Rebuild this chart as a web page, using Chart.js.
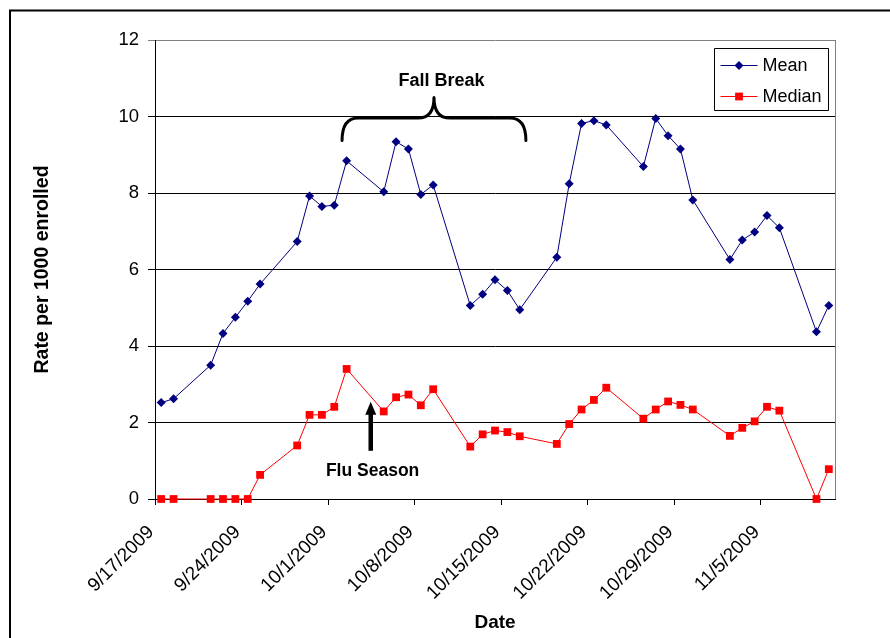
<!DOCTYPE html>
<html>
<head>
<meta charset="utf-8">
<title>Rate per 1000 enrolled</title>
<script src="https://cdn.jsdelivr.net/npm/chart.js@4/dist/chart.umd.min.js"></script>
<style>
  html, body { margin: 0; padding: 0; background: #fff; }
  #wrap { position: relative; width: 890px; height: 638px; }
</style>
</head>
<body>
<div id="wrap"><canvas id="chart" width="890" height="638"></canvas></div>
<script>
// Reporting dates (2009, weekdays only)
const dates = [
  '9/17', '9/18', '9/21', '9/22', '9/23', '9/24', '9/25',
  '9/28', '9/29', '9/30', '10/1', '10/2',
  '10/5', '10/6', '10/7', '10/8', '10/9',
  '10/12', '10/13', '10/14', '10/15', '10/16',
  '10/19', '10/20', '10/21', '10/22', '10/23',
  '10/26', '10/27', '10/28', '10/29', '10/30',
  '11/2', '11/3', '11/4', '11/5', '11/6',
  '11/9', '11/10'
];

const meanRate = [
  2.52, 2.62, 3.50, 4.33, 4.75, 5.17, 5.62,
  6.73, 7.92, 7.65, 7.68, 8.84,
  8.03, 9.34, 9.15, 7.96, 8.21,
  5.06, 5.35, 5.73, 5.45, 4.95,
  6.32, 8.24, 9.82, 9.89, 9.78,
  8.69, 9.95, 9.50, 9.15, 7.82,
  6.26, 6.77, 6.98, 7.41, 7.09,
  4.37, 5.06
];

const medianRate = [
  0, 0, 0, 0, 0, 0, 0.63,
  1.40, 2.20, 2.20, 2.41, 3.40,
  2.29, 2.66, 2.73, 2.45, 2.87,
  1.37, 1.69, 1.79, 1.75, 1.64,
  1.44, 1.96, 2.34, 2.59, 2.91,
  2.10, 2.34, 2.55, 2.46, 2.34,
  1.65, 1.86, 2.03, 2.41, 2.31,
  0, 0.78
];

const xTickLabels = [
  '9/17/2009', '9/24/2009', '10/1/2009', '10/8/2009',
  '10/15/2009', '10/22/2009', '10/29/2009', '11/5/2009'
];
const yTicks = [0, 2, 4, 6, 8, 10, 12];

const seriesNames = ['Mean', 'Median'];
const axisTitles = { x: 'Date', y: 'Rate per 1000 enrolled' };
const notes = { break: 'Fall Break', flu: 'Flu Season' };

// ---- date helpers: the x axis counts days from the first reporting date ----
const YEAR = 2009;
function dayNumber(md) {
  const [m, d] = md.split('/').map(Number);
  return Date.UTC(YEAR, m - 1, d) / 86400000;
}
const firstDay = dayNumber(dates[0]);
const dayIndex = md => dayNumber(md) - firstDay;
const axisEnd = dayIndex(dates[dates.length - 1]) + 1;      // last day slot closes the axis
const tickDays = xTickLabels.map(s => dayIndex(s.split('/').slice(0, 2).join('/')));
// each date occupies a one-day slot; its point sits mid-slot
const slotCentre = md => dayIndex(md) + 0.5;

const toPoints = vals => dates.map((d, i) => ({ x: slotCentre(d), y: vals[i] }));

const FONT = '"Liberation Sans", Arial, sans-serif';

// Fall Break brace span (first and last day slot) and the flu-season pointer, in axis units
const braceSpan = { from: '10/2', to: '10/16', foot: 9.37, bar: 9.96, peak: 10.5 };
const fluPointer = { day: 17.45, tip: 2.54, tail: 1.26, text: 0.74 };
const breakText = { day: 23.17, value: 10.93 };

// Outer frame, plot border and the annotations
const decorations = {
  id: 'decorations',
  beforeDraw(chart) {
    const c = chart.ctx;
    c.save();
    c.fillStyle = '#fff';
    c.fillRect(0, 0, chart.width, chart.height);
    c.restore();
  },
  afterDraw(chart) {
    const c = chart.ctx;
    const xs = chart.scales.x, ys = chart.scales.y, a = chart.chartArea;
    c.save();

    // outer frame (left and top edges show)
    c.strokeStyle = '#000';
    c.lineWidth = 2;
    c.beginPath();
    c.moveTo(10, chart.height + 5);
    c.lineTo(10, 10.5);
    c.lineTo(chart.width + 5, 10.5);
    c.stroke();

    // grey plot-area border on the right
    c.strokeStyle = '#808080';
    c.lineWidth = 1;
    c.beginPath();
    c.moveTo(Math.round(a.right) + 0.5, a.top);
    c.lineTo(Math.round(a.right) + 0.5, a.bottom);
    c.stroke();

    // curly brace over the Fall Break days
    const L = xs.getPixelForValue(dayIndex(braceSpan.from) + 0.13);
    const R = xs.getPixelForValue(dayIndex(braceSpan.to) + 1);
    const M = (L + R) / 2;
    const B = ys.getPixelForValue(braceSpan.foot);
    const H = ys.getPixelForValue(braceSpan.bar);
    const P = ys.getPixelForValue(braceSpan.peak);
    c.strokeStyle = '#000';
    c.lineWidth = 3;
    c.lineCap = 'round';
    c.lineJoin = 'round';
    c.beginPath();
    c.moveTo(L, B);
    c.quadraticCurveTo(L, H, L + 16, H);
    c.lineTo(M - 16, H);
    c.quadraticCurveTo(M, H, M, P);
    c.quadraticCurveTo(M, H, M + 16, H);
    c.lineTo(R - 16, H);
    c.quadraticCurveTo(R, H, R, B);
    c.stroke();

    c.fillStyle = '#000';
    c.font = 'bold 18px ' + FONT;
    c.textAlign = 'center';
    c.textBaseline = 'middle';
    c.fillText(notes.break, xs.getPixelForValue(breakText.day), ys.getPixelForValue(breakText.value));

    // flu-season arrow
    const ax = xs.getPixelForValue(fluPointer.day);
    const tipY = ys.getPixelForValue(fluPointer.tip);
    const tailY = ys.getPixelForValue(fluPointer.tail);
    c.lineWidth = 4.5;
    c.lineCap = 'butt';
    c.beginPath();
    c.moveTo(ax, tailY);
    c.lineTo(ax, tipY + 10);
    c.stroke();
    c.beginPath();
    c.moveTo(ax, tipY);
    c.lineTo(ax - 5.5, tipY + 13);
    c.lineTo(ax + 5.5, tipY + 13);
    c.closePath();
    c.fill();
    c.font = 'bold 17.5px ' + FONT;
    c.fillText(notes.flu, xs.getPixelForValue(fluPointer.day + 0.15), ys.getPixelForValue(fluPointer.text));

    // legend box
    const bw = 114, bh = 62;
    const bx = Math.round(a.right) - 7 - bw + 0.5;
    const by = Math.round(a.top) + 8 + 0.5;
    c.fillStyle = '#fff';
    c.fillRect(bx, by, bw, bh);
    c.strokeStyle = '#000';
    c.lineWidth = 1;
    c.strokeRect(bx, by, bw, bh);
    chart.data.datasets.forEach((ds, i) => {
      const ry = by + 17 + i * 31;
      c.strokeStyle = ds.borderColor;
      c.lineWidth = ds.borderWidth;
      c.beginPath();
      c.moveTo(bx + 6, ry);
      c.lineTo(bx + 43, ry);
      c.stroke();
      c.fillStyle = ds.pointBackgroundColor;
      Chart.helpers.drawPoint(c, {
        pointStyle: ds.pointStyle, radius: ds.pointRadius, rotation: 0, borderWidth: 0
      }, bx + 24.5, ry);
      c.fillStyle = '#000';
      c.font = '18px ' + FONT;
      c.textAlign = 'left';
      c.textBaseline = 'middle';
      c.fillText(ds.label, bx + 48, ry + 1);
    });

    c.restore();
  }
};

new Chart(document.getElementById('chart'), {
  type: 'line',
  data: {
    datasets: [
      {
        label: seriesNames[0],
        data: toPoints(meanRate),
        borderColor: '#000080',
        backgroundColor: '#000080',
        pointBackgroundColor: '#000080',
        pointBorderColor: '#000080',
        borderWidth: 1,
        pointStyle: 'rectRot',
        pointRadius: 4.5,
        pointBorderWidth: 0,
        tension: 0,
        clip: false
      },
      {
        label: seriesNames[1],
        data: toPoints(medianRate),
        borderColor: '#FF0000',
        backgroundColor: '#FF0000',
        pointBackgroundColor: '#FF0000',
        pointBorderColor: '#FF0000',
        borderWidth: 1,
        pointStyle: 'rect',
        pointRadius: 5.5,
        pointBorderWidth: 0,
        tension: 0,
        clip: false
      }
    ]
  },
  options: {
    responsive: false,
    animation: false,
    devicePixelRatio: 1,
    layout: { padding: { left: 0, top: 40, right: 55, bottom: 0 } },
    plugins: {
      legend: { display: false },
      tooltip: { enabled: false }
    },
    scales: {
      x: {
        type: 'linear',
        min: 0,
        max: axisEnd,
        afterBuildTicks(scale) {
          scale.ticks = tickDays.map(v => ({ value: v }));
        },
        afterFit(scale) { scale.height = 139; },
        ticks: {
          autoSkip: false,
          minRotation: 45,
          maxRotation: 45,
          padding: 16,
          labelOffset: -4,
          color: '#000',
          font: { family: FONT, size: 19 },
          callback(v) {
            const i = tickDays.indexOf(v);
            return i >= 0 ? xTickLabels[i] : '';
          }
        },
        grid: {
          drawOnChartArea: false,
          drawTicks: true,
          tickLength: 6,
          color: '#000'
        },
        border: { display: true, color: '#000', width: 1 },
        title: {
          display: true,
          text: axisTitles.x,
          color: '#000',
          font: { family: FONT, size: 19, weight: 'bold' },
          padding: { top: 0, bottom: 4 }
        }
      },
      y: {
        min: 0,
        max: 12,
        afterBuildTicks(scale) {
          scale.ticks = yTicks.map(v => ({ value: v }));
        },
        afterFit(scale) { scale.width = 155; },
        ticks: {
          padding: 9,
          color: '#000',
          font: { family: FONT, size: 18.5 }
        },
        grid: {
          drawTicks: true,
          tickLength: 7,
          color: ctx => (ctx.tick && ctx.tick.value === 12 ? '#808080' : '#000'),
          lineWidth: 1
        },
        border: { display: true, color: '#000', width: 1 },
        title: {
          display: true,
          text: axisTitles.y,
          color: '#000',
          font: { family: FONT, size: 19.5, weight: 'bold' },
          padding: { top: 31, bottom: 0 }
        }
      }
    }
  },
  plugins: [decorations]
});
</script>
</body>
</html>
